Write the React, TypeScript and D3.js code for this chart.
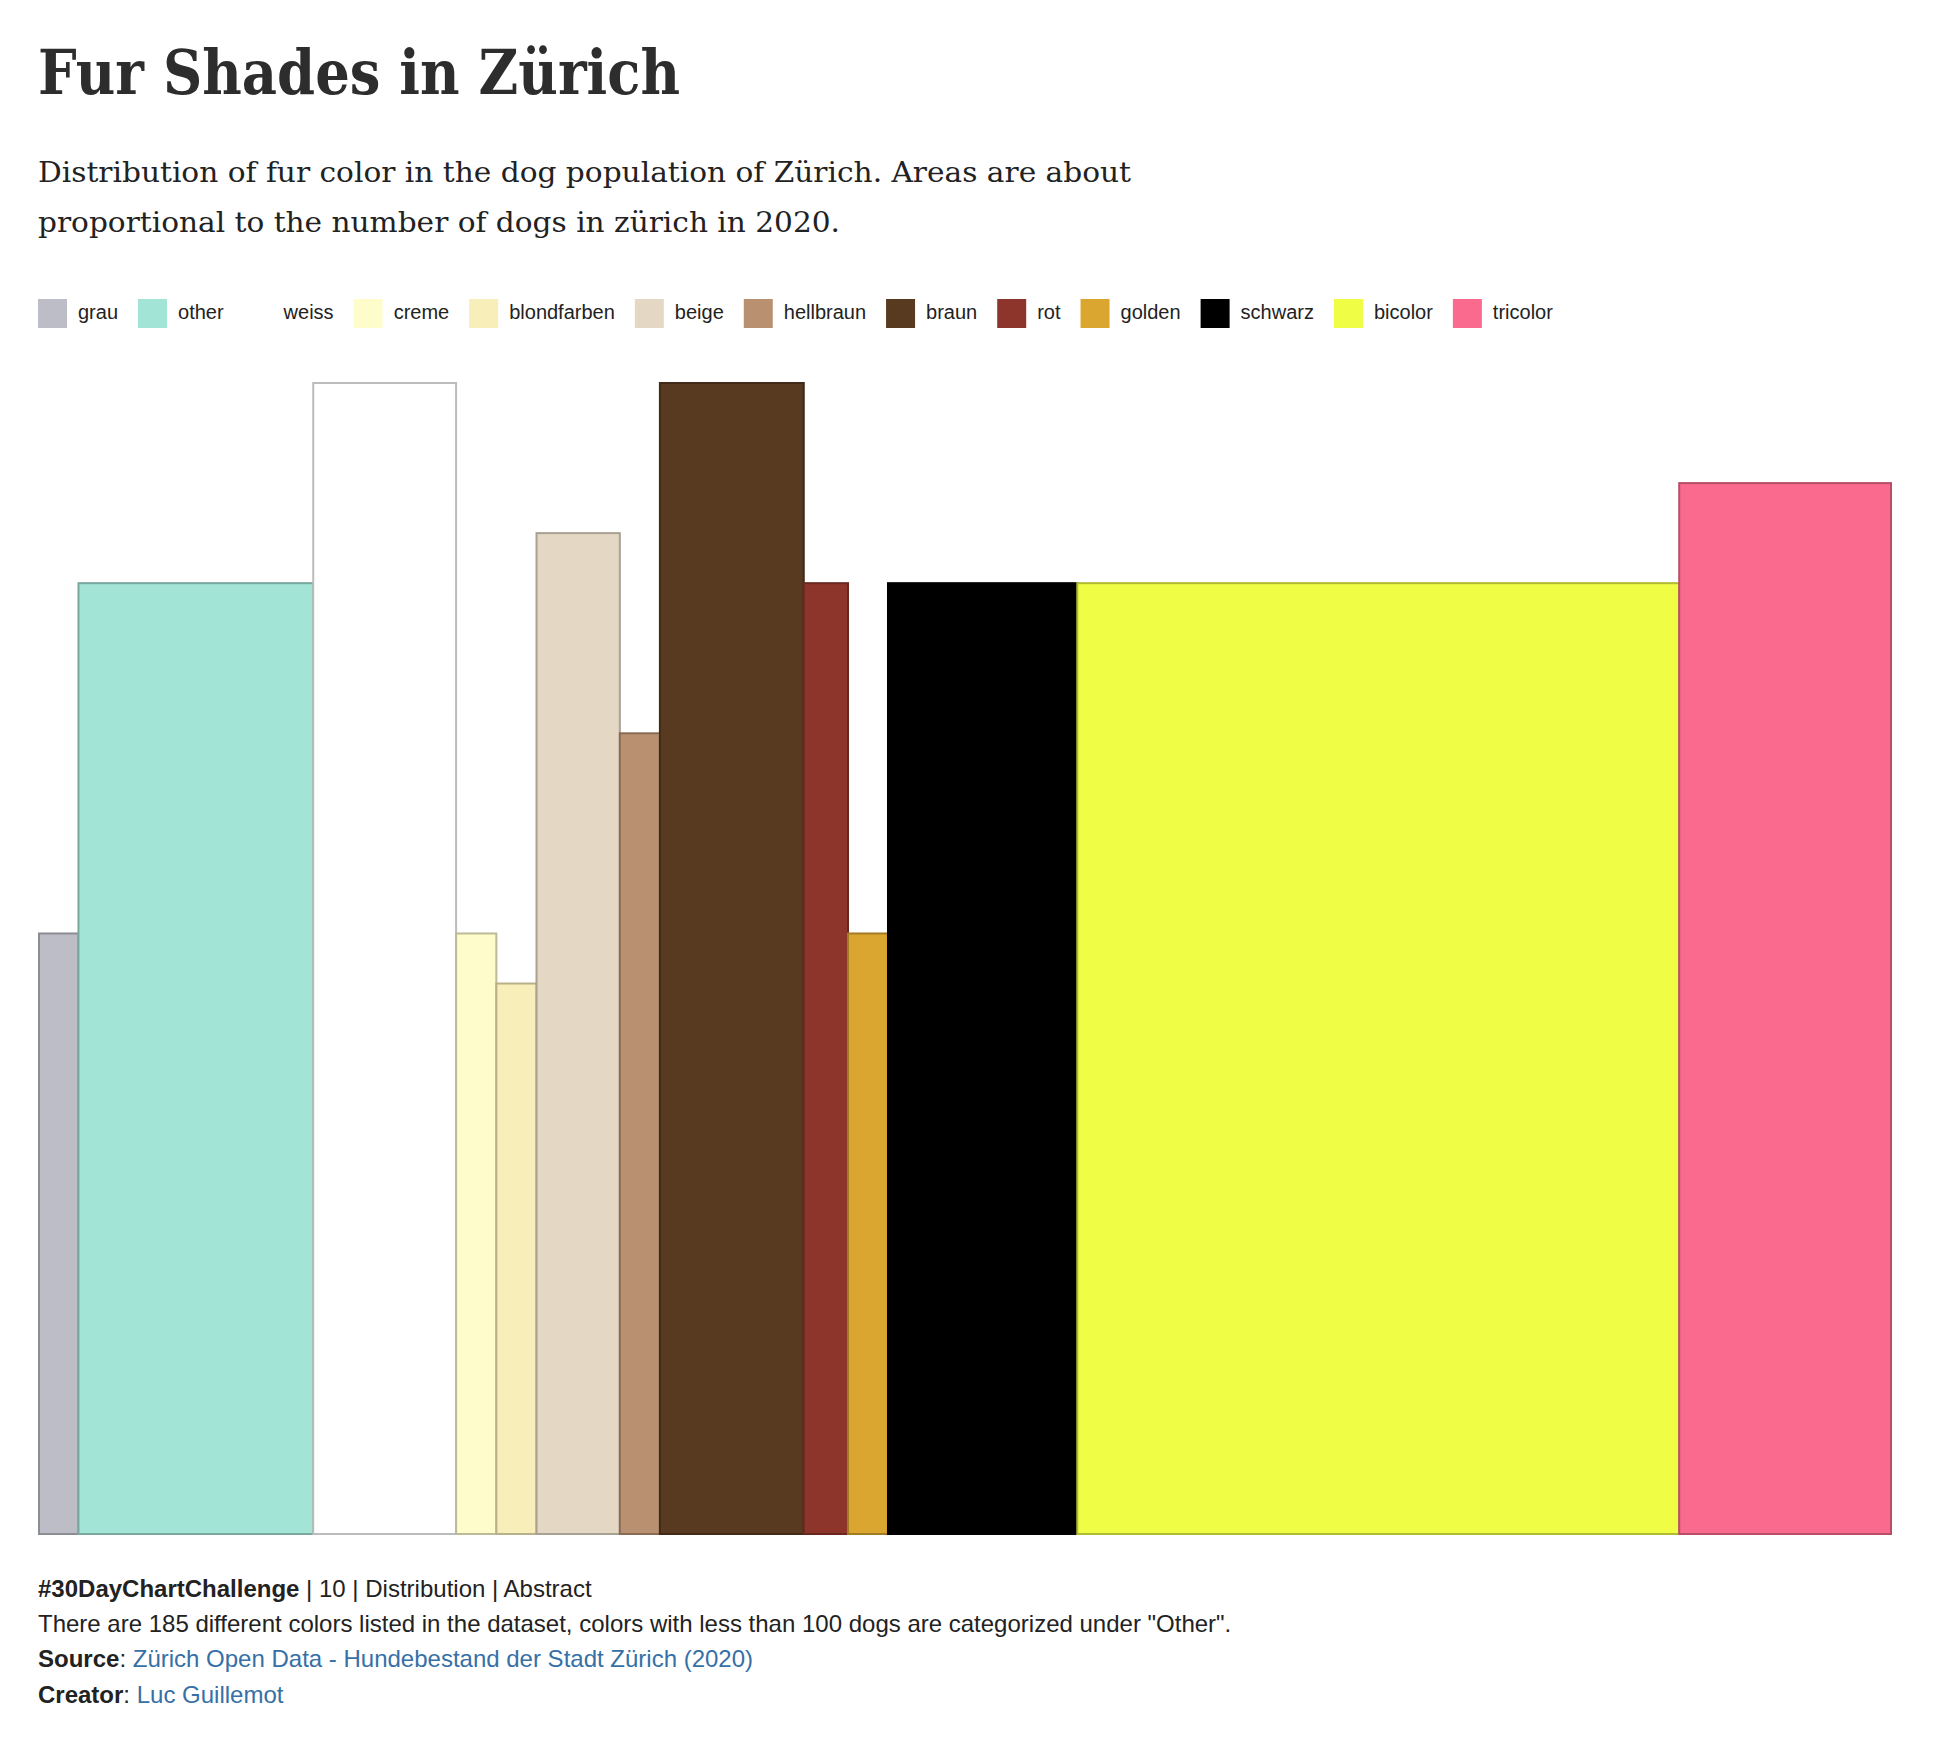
import React from "react";
import * as d3 from "d3";

const categories = ["grau", "other", "weiss", "creme", "blondfarben", "beige", "hellbraun", "braun", "rot", "golden", "schwarz", "bicolor", "tricolor"];
const fillColors = ["#bdbdc7", "#a2e4d6", "#ffffff", "#fffccc", "#f8eeb9", "#e4d8c5", "#b99170", "#583a21", "#8e352b", "#dba62f", "#000000", "#effd45", "#fa698e"];
// relative bar widths and heights (area ~ number of dogs)
const barWidths = [3.95, 23.5, 14.3, 4.03, 4.02, 8.34, 4.01, 14.4, 4.43, 4.0, 18.95, 60.25, 21.2];
const barHeights = [12, 19, 23, 12, 11, 20, 16, 23, 19, 12, 19, 19, 21];

const titleText = "Fur Shades in Zürich";
const subtitleLines = [
  "Distribution of fur color in the dog population of Zürich. Areas are about",
  "proportional to the number of dogs in zürich in 2020.",
];

const W = 1948;
const H = 1748;
const plotLeft = 39;
const plotRight = 1891;
const plotBottom = 1534;
const plotTop = 383;

function measure(text: string, font: string): number {
  const c = document.createElement("canvas");
  const ctx = c.getContext("2d")!;
  ctx.font = font;
  return ctx.measureText(text).width;
}

export default function App() {
  const total = d3.sum(barWidths);
  const x = d3.scaleLinear().domain([0, total]).range([plotLeft, plotRight]);
  const y = d3.scaleLinear().domain([0, d3.max(barHeights)!]).range([plotBottom, plotTop]);
  const starts = d3.cumsum([0, ...barWidths.slice(0, -1)]);

  const bars = categories.map((c, i) => ({
    name: c,
    x0: x(starts[i]),
    x1: x(starts[i] + barWidths[i]),
    y0: y(barHeights[i]),
    fill: fillColors[i],
    stroke: d3.color(fillColors[i])!.darker(0.85).formatHex(),
  }));

  // legend flow layout
  const legendFont = "20px 'Liberation Sans', Arial, sans-serif";
  const sq = 29;
  let cursor = 38;
  const legend = categories.map((c, i) => {
    const item = { name: c, x: cursor, fill: fillColors[i] };
    cursor += sq + 11 + measure(c, legendFont) + 20;
    return item;
  });

  const sans = "'Liberation Sans', Arial, sans-serif";
  const serif = "'DejaVu Serif', serif";

  return (
    <div style={{ position: "absolute", left: 0, top: 0, width: W, height: H, background: "#fff" }}>
      <svg width={W} height={H} style={{ display: "block" }}>
        <rect x={0} y={0} width={W} height={H} fill="#ffffff" />
        <text x={38} y={94} fontFamily={serif} fontWeight="bold" fontSize={62} fill="#2d2d2d" textLength={642} lengthAdjust="spacingAndGlyphs">
          {titleText}
        </text>
        <text x={38} y={182} fontFamily={serif} fontSize={27.5} fill="#222" textLength={1093} lengthAdjust="spacingAndGlyphs">
          {subtitleLines[0]}
        </text>
        <text x={38} y={232} fontFamily={serif} fontSize={27.5} fill="#222" textLength={802} lengthAdjust="spacingAndGlyphs">
          {subtitleLines[1]}
        </text>

        <g>
          {legend.map((l) => (
            <g key={l.name}>
              <rect x={l.x} y={299} width={sq} height={sq} fill={l.fill} />
              <text x={l.x + sq + 11} y={314} dominantBaseline="middle" fontFamily={sans} fontSize={20} fill="#222">
                {l.name}
              </text>
            </g>
          ))}
        </g>

        <g>
          {bars.map((b) => (
            <rect
              key={b.name}
              x={b.x0}
              y={b.y0}
              width={b.x1 - b.x0}
              height={plotBottom - b.y0}
              fill={b.fill}
              stroke={b.stroke}
              strokeWidth={2}
            />
          ))}
        </g>

        <g fontFamily={sans} fontSize={24} fill="#222">
          <text x={38} y={1597}>
            <tspan fontWeight="bold">#30DayChartChallenge</tspan>
            <tspan> | 10 | Distribution | Abstract</tspan>
          </text>
          <text x={38} y={1632}>
            There are 185 different colors listed in the dataset, colors with less than 100 dogs are categorized under "Other".
          </text>
          <text x={38} y={1667}>
            <tspan fontWeight="bold">Source</tspan>
            <tspan>: </tspan>
            <tspan fill="#3670a6">Zürich Open Data - Hundebestand der Stadt Zürich (2020)</tspan>
          </text>
          <text x={38} y={1703}>
            <tspan fontWeight="bold">Creator</tspan>
            <tspan>: </tspan>
            <tspan fill="#3670a6">Luc Guillemot</tspan>
          </text>
        </g>
      </svg>
    </div>
  );
}
